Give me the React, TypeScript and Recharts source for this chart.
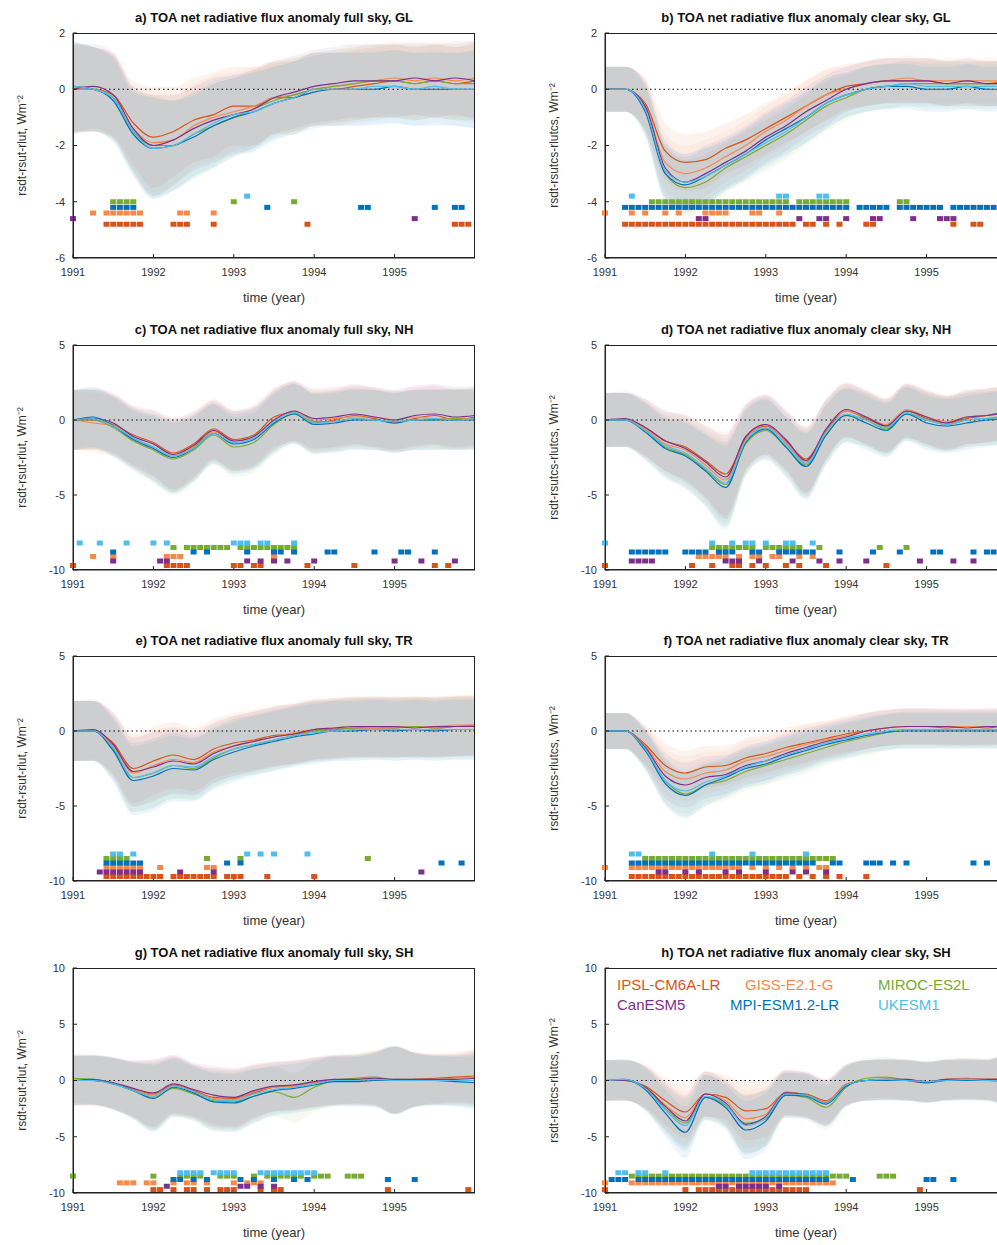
import { ComposedChart, Line, Area, Scatter, XAxis, YAxis, ReferenceLine } from "recharts";

const models = ["IPSL-CM6A-LR", "GISS-E2.1-G", "MIROC-ES2L", "CanESM5", "MPI-ESM1.2-LR", "UKESM1"];
const colors = ["#D95319", "#F5894A", "#77AC30", "#7E2F8E", "#0072BD", "#4DBEEE"];
const years = [1991, 1992, 1993, 1994, 1995];
// quarterly time points 1991.00 .. 1996.00
const times = [1991, 1991.25, 1991.5, 1991.75, 1992, 1992.25, 1992.5, 1992.75, 1993, 1993.25, 1993.5, 1993.75, 1994, 1994.25, 1994.5, 1994.75, 1995, 1995.25, 1995.5, 1995.75, 1996];

// line values per model: IPSL, GISS, MIROC, CanESM5, MPI, UKESM1
const aLines = [
  [0, 0, -0.2, -1.2, -1.7, -1.5, -1.1, -0.9, -0.6, -0.6, -0.3, -0.3, 0, 0, 0.1, 0.2, 0.3, 0.2, 0.3, 0.2, 0.3],
  [0, 0, -0.3, -1.4, -1.9, -1.8, -1.3, -1.0, -0.8, -0.6, -0.3, -0.2, 0, 0.1, 0.2, 0.3, 0.4, 0.3, 0.4, 0.3, 0.4],
  [0.1, 0, -0.3, -1.5, -2.0, -2.0, -1.6, -1.3, -1.0, -0.7, -0.4, -0.2, 0, 0.1, 0.2, 0.3, 0.3, 0.2, 0.3, 0.2, 0.2],
  [0, 0.1, -0.2, -1.4, -2.0, -1.8, -1.4, -1.1, -0.9, -0.7, -0.3, -0.1, 0.1, 0.2, 0.3, 0.3, 0.3, 0.4, 0.3, 0.4, 0.3],
  [0.1, 0, -0.4, -1.6, -2.1, -2.0, -1.7, -1.3, -1.0, -0.8, -0.5, -0.3, -0.1, 0, 0, 0, 0.1, 0, 0, 0, 0],
  [0.1, 0, -0.3, -1.5, -2.1, -2.0, -1.6, -1.2, -0.9, -0.8, -0.5, -0.3, 0, 0, 0, 0.1, 0.1, 0, 0.1, 0, 0],
];
const aSpread = [1.6, 1.5, 1.5, 1.5, 1.8, 1.6, 1.5, 1.5, 1.4, 1.4, 1.3, 1.3, 1.3, 1.3, 1.3, 1.3, 1.3, 1.3, 1.3, 1.3, 1.4];
const aMarks = [
  [5, 6, 7, 8, 9, 10, 15, 16, 17, 21, 35, 57, 58, 59],
  [3, 5, 6, 7, 8, 9, 10, 16, 17, 21],
  [6, 7, 8, 9, 24, 33],
  [0, 51],
  [6, 7, 8, 9, 29, 43, 44, 54, 57, 58],
  [26],
];

const bLines = [
  [0, 0, -0.5, -2.2, -2.6, -2.5, -2.1, -1.8, -1.4, -1.0, -0.6, -0.2, 0.1, 0.2, 0.3, 0.3, 0.3, 0.2, 0.2, 0.2, 0.3],
  [0, 0, -0.6, -2.6, -3.0, -2.8, -2.4, -2.0, -1.5, -1.1, -0.6, -0.2, 0, 0.2, 0.3, 0.4, 0.3, 0.3, 0.3, 0.3, 0.3],
  [0, 0, -0.7, -3.0, -3.5, -3.3, -2.8, -2.4, -2.0, -1.6, -1.1, -0.6, -0.3, 0, 0.1, 0.2, 0.2, 0.2, 0.2, 0.2, 0.2],
  [0, 0, -0.6, -2.8, -3.3, -3.0, -2.6, -2.2, -1.7, -1.3, -0.8, -0.4, 0, 0.2, 0.3, 0.3, 0.3, 0.2, 0.3, 0.2, 0.2],
  [0, 0, -0.8, -3.0, -3.4, -3.1, -2.7, -2.3, -1.8, -1.4, -1.0, -0.5, -0.2, 0, 0.1, 0.1, 0, 0, 0.1, 0, 0],
  [0, 0, -0.7, -2.9, -3.3, -3.1, -2.7, -2.3, -1.9, -1.5, -1.0, -0.5, -0.2, 0, 0.1, 0.2, 0.1, 0.1, 0.1, 0.1, 0.1],
];
const bSpread = [0.8, 0.8, 0.9, 1.0, 1.0, 1.0, 0.9, 0.9, 0.9, 0.9, 0.9, 0.9, 0.8, 0.8, 0.8, 0.8, 0.8, 0.8, 0.8, 0.8, 0.8];
const bMarks = [
  [3, 4, 5, 6, 7, 8, 9, 10, 11, 12, 13, 14, 15, 16, 17, 18, 19, 20, 21, 22, 23, 24, 25, 26, 27, 28, 30, 31, 33, 35, 39, 40, 52, 55, 56],
  [0, 4, 6, 9, 11, 15, 16, 17, 18, 22, 23, 26],
  [7, 8, 9, 10, 11, 12, 13, 14, 15, 16, 17, 18, 19, 20, 21, 22, 23, 24, 25, 26, 27, 29, 30, 31, 32, 33, 34, 35, 36, 44, 45],
  [14, 15, 29, 32, 33, 36, 40, 41, 46, 50, 51, 52],
  [3, 4, 5, 6, 7, 8, 9, 10, 11, 12, 13, 14, 15, 16, 17, 18, 19, 20, 21, 22, 23, 24, 25, 26, 27, 28, 29, 30, 31, 32, 33, 34, 35, 36, 38, 39, 40, 41, 42, 44, 45, 46, 47, 48, 49, 50, 52, 53, 54, 55, 56, 57, 58, 59],
  [4, 26, 27, 32, 33],
];

const cLines = [
  [0, 0, -0.3, -1.0, -1.5, -2.2, -1.6, -0.6, -1.3, -1.0, 0.2, 0.5, -0.2, 0, 0.3, 0.1, -0.2, 0.1, 0.3, 0, 0.2],
  [0, -0.2, -0.4, -1.2, -1.8, -2.4, -1.8, -0.8, -1.4, -1.2, 0, 0.6, 0, 0.1, 0.2, 0.2, 0, 0.2, 0.1, 0.1, 0.1],
  [0, 0, -0.5, -1.4, -2.0, -2.6, -2.0, -1.0, -1.8, -1.5, -0.3, 0.4, -0.1, -0.1, 0.1, 0, -0.1, 0, 0, 0.1, 0],
  [0, 0.1, -0.2, -1.1, -1.6, -2.3, -1.7, -0.7, -1.4, -1.1, 0, 0.6, 0.1, 0.2, 0.4, 0.2, 0, 0.3, 0.4, 0.2, 0.3],
  [0, 0.2, -0.4, -1.3, -1.9, -2.5, -1.9, -0.9, -1.6, -1.3, -0.2, 0.4, -0.3, -0.2, 0, 0, -0.2, 0, 0, 0, 0],
  [0, 0.1, -0.4, -1.2, -1.8, -2.4, -1.9, -0.9, -1.5, -1.2, -0.1, 0.5, -0.2, -0.1, 0.1, 0, -0.1, 0, 0.1, 0, 0.1],
];
const cSpread = [2.0, 2.0, 2.0, 2.0, 2.2, 2.4, 2.2, 2.0, 2.0, 2.0, 2.0, 2.0, 2.0, 2.0, 2.0, 2.0, 2.0, 2.0, 2.0, 2.0, 2.0];
const cMarks = [
  [0, 14, 15, 16, 17, 24, 25, 27, 28, 35, 42, 54, 56],
  [3, 6, 14, 15, 16, 30],
  [15, 17, 18, 19, 20, 21, 22, 23, 25, 26, 27, 28, 29, 30, 31, 32, 33],
  [6, 13, 14, 26, 28, 30, 32, 36, 48, 52, 57],
  [6, 18, 20, 26, 30, 31, 33, 38, 39, 45, 49, 50, 54],
  [1, 4, 8, 12, 14, 24, 25, 26, 28, 29, 33],
];

const dLines = [
  [0, 0, -0.5, -1.4, -1.8, -2.7, -3.6, -1.2, -0.4, -1.4, -2.6, -0.7, 0.6, 0.1, -0.4, 0.6, 0.1, -0.2, 0.1, 0.3, 0.6],
  [0, 0, -0.6, -1.6, -2.0, -3.0, -4.0, -1.3, -0.3, -1.5, -2.8, -0.6, 0.6, 0.2, -0.3, 0.7, 0.2, -0.1, 0.2, 0.3, 0.5],
  [0, 0, -0.7, -1.8, -2.3, -3.3, -4.3, -1.6, -0.7, -1.8, -3.0, -1.0, 0.3, 0, -0.6, 0.4, 0, -0.3, 0, 0.1, 0.3],
  [0, 0.1, -0.5, -1.4, -1.9, -2.8, -3.8, -1.1, -0.3, -1.3, -2.7, -0.6, 0.7, 0.2, -0.4, 0.6, 0.2, -0.2, 0.2, 0.3, 0.5],
  [0, 0, -0.8, -1.9, -2.4, -3.4, -4.5, -1.5, -0.6, -1.8, -3.1, -1.0, 0.3, -0.2, -0.7, 0.4, -0.2, -0.4, -0.2, 0, 0.1],
  [0, 0, -0.7, -1.7, -2.2, -3.2, -4.2, -1.4, -0.5, -1.6, -2.9, -0.8, 0.4, 0, -0.5, 0.5, 0, -0.3, 0, 0.1, 0.2],
];
const dSpread = [1.8, 1.8, 1.9, 2.0, 2.2, 2.4, 2.8, 2.2, 2.0, 2.0, 2.2, 2.0, 1.8, 1.8, 1.8, 1.8, 1.8, 1.8, 1.8, 1.8, 1.8];
const dMarks = [
  [0, 13, 16, 19, 20, 22, 24, 27, 29, 33, 42],
  [14, 15, 16, 17, 18, 20, 22, 23, 25, 26, 29, 31],
  [16, 17, 18, 19, 20, 21, 22, 24, 25, 26, 27, 28, 29, 32, 41, 45],
  [4, 5, 6, 7, 18, 19, 20, 23, 28, 32, 35, 39, 47, 52, 55],
  [4, 5, 6, 7, 8, 9, 12, 13, 14, 15, 17, 18, 19, 22, 23, 26, 27, 28, 29, 30, 31, 35, 40, 44, 49, 50, 55, 57, 58, 59],
  [0, 16, 19, 21, 22, 24, 27, 28, 31],
];

const eLines = [
  [0, 0, -0.8, -2.5, -2.0, -1.6, -1.9, -1.2, -0.8, -0.6, -0.3, -0.2, 0, 0.1, 0.2, 0.2, 0.2, 0.3, 0.2, 0.3, 0.4],
  [0, 0, -1.0, -2.8, -2.3, -1.9, -2.1, -1.4, -1.0, -0.7, -0.4, -0.1, 0.1, 0.2, 0.3, 0.2, 0.3, 0.3, 0.3, 0.4, 0.4],
  [0, 0, -1.2, -3.1, -2.8, -2.3, -2.5, -1.8, -1.2, -0.9, -0.6, -0.3, 0, 0.1, 0.2, 0.3, 0.2, 0.3, 0.2, 0.3, 0.3],
  [0, 0.1, -0.9, -2.7, -2.4, -2.0, -2.2, -1.5, -1.0, -0.7, -0.4, -0.2, 0.1, 0.2, 0.3, 0.3, 0.3, 0.2, 0.3, 0.3, 0.3],
  [0, 0, -1.3, -3.3, -3.0, -2.5, -2.6, -1.9, -1.4, -1.0, -0.7, -0.4, -0.2, 0, 0, 0.1, 0, 0.1, 0, 0.1, 0.1],
  [0, 0, -1.1, -3.1, -2.8, -2.3, -2.4, -1.7, -1.2, -0.9, -0.6, -0.3, -0.1, 0, 0.1, 0.1, 0.1, 0.1, 0.1, 0.1, 0.1],
];
const eSpread = [2.0, 2.0, 2.1, 2.3, 2.3, 2.2, 2.1, 2.0, 2.0, 2.0, 2.0, 2.0, 2.0, 2.0, 2.0, 2.0, 2.0, 2.0, 2.0, 2.0, 2.0];
const eMarks = [
  [5, 6, 7, 8, 9, 10, 11, 12, 13, 15, 16, 17, 18, 19, 20, 21, 23, 24, 25, 29, 36],
  [5, 6, 7, 8, 9, 10, 13, 20, 21],
  [5, 6, 7, 8, 20, 25, 44],
  [4, 5, 6, 7, 8, 9, 10, 16, 21, 52],
  [5, 6, 7, 8, 9, 10, 23, 25, 55, 58],
  [6, 7, 9, 26, 28, 30, 35],
];

const fLines = [
  [0, 0, -0.9, -2.3, -2.8, -2.4, -2.3, -1.8, -1.5, -1.1, -0.8, -0.5, -0.2, 0, 0.2, 0.3, 0.3, 0.2, 0.3, 0.2, 0.4],
  [0, 0, -1.0, -2.7, -3.2, -2.8, -2.6, -2.0, -1.7, -1.3, -0.9, -0.6, -0.3, 0, 0.2, 0.3, 0.3, 0.3, 0.3, 0.3, 0.3],
  [0, 0, -1.3, -3.3, -4.2, -3.6, -3.3, -2.7, -2.3, -1.9, -1.5, -1.1, -0.7, -0.4, -0.1, 0.1, 0.1, 0.1, 0.1, 0.1, 0.1],
  [0, 0, -1.1, -3.0, -3.6, -3.1, -2.9, -2.3, -2.0, -1.5, -1.1, -0.7, -0.4, 0, 0.2, 0.3, 0.3, 0.3, 0.2, 0.3, 0.3],
  [0, 0, -1.3, -3.5, -4.3, -3.6, -3.1, -2.5, -2.2, -1.7, -1.3, -0.9, -0.6, -0.3, -0.1, 0, 0, 0, 0, 0, 0],
  [0, 0, -1.2, -3.3, -4.0, -3.4, -3.0, -2.4, -2.0, -1.6, -1.2, -0.8, -0.5, -0.2, 0, 0.1, 0.1, 0.1, 0.1, 0.1, 0.1],
];
const fSpread = [1.2, 1.2, 1.3, 1.5, 1.5, 1.4, 1.3, 1.3, 1.3, 1.3, 1.3, 1.2, 1.2, 1.2, 1.2, 1.2, 1.2, 1.2, 1.2, 1.2, 1.2];
const fMarks = [
  [4, 5, 6, 7, 8, 9, 10, 11, 12, 13, 14, 15, 16, 17, 18, 19, 20, 21, 22, 23, 24, 25, 26, 27, 29, 31, 33, 35, 39],
  [0, 4, 5, 6, 7, 8, 9, 10, 11, 12, 13, 14, 15, 16, 17, 18, 19, 20, 22, 24, 26, 28, 30, 32, 33],
  [6, 7, 8, 9, 10, 11, 12, 13, 14, 15, 16, 17, 18, 19, 20, 21, 22, 23, 24, 25, 26, 27, 28, 29, 30, 31, 32, 33, 34],
  [8, 9, 12, 14, 18, 20, 24, 28, 30, 33],
  [4, 5, 6, 7, 8, 9, 10, 11, 12, 13, 14, 15, 16, 17, 18, 19, 20, 21, 22, 23, 24, 25, 26, 27, 28, 29, 30, 31, 34, 35, 39, 40, 41, 43, 45, 55, 57],
  [4, 5, 16, 22, 30],
];

const gLines = [
  [0, 0, -0.3, -0.8, -1.2, -0.4, -0.9, -1.5, -1.6, -1.1, -0.6, -0.4, -0.2, 0, 0, 0.1, 0, 0.1, 0.2, 0.3, 0.4],
  [0, 0, -0.3, -0.8, -1.3, -0.5, -1.0, -1.6, -1.7, -1.0, -0.6, -0.5, -0.2, 0, 0.1, 0.2, 0, 0.1, 0.1, 0.2, 0.3],
  [0.2, 0.1, -0.2, -0.9, -1.5, -0.7, -1.2, -1.8, -1.9, -1.4, -1.0, -1.5, -0.6, 0, 0.2, 0.3, 0.1, 0.1, 0, 0, 0],
  [0, 0, -0.2, -0.7, -1.1, -0.3, -0.8, -1.3, -1.5, -0.9, -0.5, -0.4, -0.1, 0.1, 0.1, 0.2, 0.1, 0.1, 0.1, 0.1, 0.2],
  [0, 0.1, -0.3, -0.9, -1.6, -0.6, -1.1, -1.9, -2.0, -1.4, -0.9, -0.7, -0.4, -0.1, -0.1, 0, 0, 0, 0, -0.1, -0.2],
  [0, 0, -0.3, -0.9, -1.4, -0.5, -1.0, -1.7, -1.8, -1.2, -0.8, -0.6, -0.3, 0, 0, 0.1, 0, 0, 0, 0, 0],
];
const gSpread = [2.2, 2.2, 2.3, 2.5, 3.0, 2.6, 2.4, 2.6, 2.6, 2.4, 2.2, 2.2, 2.2, 2.2, 2.2, 2.4, 3.0, 2.4, 2.2, 2.2, 2.4];
const gMarks = [
  [12, 13, 15, 17, 18, 20, 22, 23, 24, 28, 30, 31, 47, 59],
  [7, 8, 9, 11, 12, 15, 17, 18, 20, 24, 26, 27, 28],
  [0, 12, 16, 17, 18, 19, 22, 23, 24, 27, 29, 30, 31, 32, 33, 34, 36, 37, 38, 41, 42, 43],
  [14, 25, 26, 28, 30],
  [15, 16, 18, 20, 25, 27, 30, 33, 35, 47, 51],
  [16, 17, 18, 19, 21, 22, 23, 24, 28, 29, 30, 31, 32, 33, 34, 35, 36],
];

const hLines = [
  [0, 0, -0.5, -1.8, -2.8, -1.2, -1.5, -2.7, -2.5, -1.1, -1.2, -1.8, -0.4, 0, 0.1, 0, -0.2, 0.1, 0.2, 0.1, 0.2],
  [0, 0, -0.6, -2.2, -3.3, -1.2, -1.8, -3.4, -3.0, -1.0, -1.3, -1.9, -0.3, 0, 0.1, 0.1, -0.1, 0.1, 0.2, 0.1, 0.2],
  [0, 0, -0.7, -2.5, -3.8, -1.5, -2.2, -3.8, -3.4, -1.3, -1.5, -2.4, -0.6, 0.2, 0.3, 0, -0.1, 0, 0.1, 0, 0],
  [0, 0, -0.6, -2.3, -3.6, -1.2, -2.0, -3.9, -3.2, -1.1, -1.3, -2.0, -0.4, 0, 0.1, 0.1, -0.1, 0.1, 0.1, 0.1, 0.1],
  [0, 0.1, -0.8, -2.9, -4.6, -1.5, -2.4, -4.4, -3.6, -1.3, -1.4, -2.1, -0.5, 0, 0, 0, -0.2, 0, 0, 0, -0.1],
  [0, 0.1, -0.7, -2.6, -4.0, -1.4, -2.1, -4.0, -3.3, -1.2, -1.3, -2.0, -0.4, 0, 0.1, 0, -0.1, 0, 0.1, 0, 0],
];
const hSpread = [1.8, 1.8, 1.9, 2.1, 2.3, 2.0, 2.0, 2.6, 2.5, 2.0, 2.0, 2.0, 1.8, 1.8, 1.8, 1.8, 1.8, 1.8, 1.8, 1.8, 2.4];
const hMarks = [
  [0, 12, 14, 15, 16, 17, 18, 19, 20, 21, 22, 23, 24, 25, 26, 27, 28, 29, 30, 47, 59],
  [0, 4, 5, 6, 7, 8, 9, 10, 11, 12, 13, 14, 15, 16, 17, 18, 19, 20, 21, 22, 23, 24, 25, 26, 27, 28, 29, 30, 31, 32, 33, 34],
  [4, 5, 6, 7, 8, 9, 10, 11, 12, 13, 14, 15, 16, 17, 18, 19, 20, 21, 22, 23, 24, 25, 26, 27, 28, 29, 30, 31, 32, 33, 34, 35, 36, 41, 42, 43],
  [17, 18, 20, 21, 22, 23, 24, 26],
  [1, 2, 3, 5, 6, 7, 8, 9, 10, 11, 12, 13, 14, 15, 16, 17, 18, 19, 20, 21, 22, 23, 24, 25, 26, 27, 28, 29, 30, 31, 32, 33, 37, 48, 49, 52],
  [2, 3, 5, 6, 9, 22, 23, 24, 25, 26, 27, 28, 29, 30, 31, 32, 33],
];

const levelsGL = [-4.8, -4.4, -4.0, -4.6, -4.2, -3.8];
const levels10 = [-9.7, -9.1, -8.5, -9.4, -8.8, -8.2];
const ticksGL = [-6, -4, -2, 0, 2];
const ticks5 = [-10, -5, 0, 5];
const ticks10 = [-10, -5, 0, 5, 10];

const panels = [
  { title: "a) TOA net radiative flux anomaly full sky, GL", ylab: "rsdt-rsut-rlut, Wm⁻²", lines: aLines, spread: aSpread, marks: aMarks, levels: levelsGL, ticks: ticksGL },
  { title: "b) TOA net radiative flux anomaly clear sky, GL", ylab: "rsdt-rsutcs-rlutcs, Wm⁻²", lines: bLines, spread: bSpread, marks: bMarks, levels: levelsGL, ticks: ticksGL },
  { title: "c) TOA net radiative flux anomaly full sky, NH", ylab: "rsdt-rsut-rlut, Wm⁻²", lines: cLines, spread: cSpread, marks: cMarks, levels: levels10, ticks: ticks5 },
  { title: "d) TOA net radiative flux anomaly clear sky, NH", ylab: "rsdt-rsutcs-rlutcs, Wm⁻²", lines: dLines, spread: dSpread, marks: dMarks, levels: levels10, ticks: ticks5 },
  { title: "e) TOA net radiative flux anomaly full sky, TR", ylab: "rsdt-rsut-rlut, Wm⁻²", lines: eLines, spread: eSpread, marks: eMarks, levels: levels10, ticks: ticks5 },
  { title: "f) TOA net radiative flux anomaly clear sky, TR", ylab: "rsdt-rsutcs-rlutcs, Wm⁻²", lines: fLines, spread: fSpread, marks: fMarks, levels: levels10, ticks: ticks5 },
  { title: "g) TOA net radiative flux anomaly full sky, SH", ylab: "rsdt-rsut-rlut, Wm⁻²", lines: gLines, spread: gSpread, marks: gMarks, levels: levels10, ticks: ticks10 },
  { title: "h) TOA net radiative flux anomaly clear sky, SH", ylab: "rsdt-rsutcs-rlutcs, Wm⁻²", lines: hLines, spread: hSpread, marks: hMarks, levels: levels10, ticks: ticks10 },
];

const font = "'Liberation Sans', Arial, sans-serif";
const W = 490;
const H = 310;
const rowTops = [0, 312, 623, 935];
const colLefts = [0, 532];

const Box = (props: any) => {
  const { cx, cy, fill } = props;
  if (cx == null || cy == null) return null;
  return <rect x={cx - 3} y={cy - 2.5} width={6} height={5} fill={fill} />;
};

const Panel = ({ p, legend }: { p: any; legend: boolean }) => {
  const data = times.map((t, i) => {
    const row: any = { t };
    models.forEach((_, m) => {
      row["v" + m] = p.lines[m][i];
      row["r" + m] = [p.lines[m][i] - p.spread[i], p.lines[m][i] + p.spread[i]];
    });
    return row;
  });
  const tickStyle = { fontSize: 11, fill: "#333", fontFamily: font };
  return (
    <div style={{ position: "relative", width: W, height: H }}>
      <div style={{ position: "absolute", left: 73, width: 402, top: 10, textAlign: "center", fontSize: 13, fontWeight: "bold", fontFamily: font, color: "#111" }}>
        {p.title}
      </div>
      <ComposedChart width={W} height={H} data={data} margin={{ top: 33, right: 15, bottom: 0, left: 28 }}>
        <XAxis dataKey="t" type="number" domain={[1991, 1996]} ticks={years} tick={tickStyle} tickSize={-4} tickMargin={14} stroke="#222" height={52}
          label={{ value: "time (year)", position: "insideBottom", offset: 8, style: { fontSize: 13, fill: "#333", fontFamily: font } }} />
        <YAxis domain={[p.ticks[0], p.ticks[p.ticks.length - 1]]} ticks={p.ticks} tick={tickStyle} tickSize={-4} tickMargin={12} stroke="#222" width={45} interval={0}
          label={{ value: p.ylab, angle: -90, position: "insideLeft", offset: -6, style: { fontSize: 12, fill: "#333", fontFamily: font, textAnchor: "middle" } }} />
        {models.map((_, m) => (
          <Area key={"a" + m} dataKey={"r" + m} stroke="none" fill={colors[m]} fillOpacity={0.07} isAnimationActive={false} type="monotone" />
        ))}
        <ReferenceLine y={0} stroke="#000" strokeDasharray="1.5 3" />
        {models.map((_, m) => (
          <Line key={"l" + m} dataKey={"v" + m} stroke={colors[m]} strokeWidth={1.2} dot={false} isAnimationActive={false} type="monotone" />
        ))}
        {models.map((_, m) => (
          <Scatter key={"s" + m} data={p.marks[m].map((k: number) => ({ t: 1991 + k / 12, y: p.levels[m] }))} dataKey="y" fill={colors[m]} shape={<Box />} isAnimationActive={false} />
        ))}
      </ComposedChart>
      <div style={{ position: "absolute", left: 73, top: 33, width: 402, height: 225, boxSizing: "border-box", border: "1px solid #222", pointerEvents: "none" }} />
      {legend && (
        <div style={{ position: "absolute", left: 85, top: 40, fontFamily: font, fontSize: 15, lineHeight: "20px" }}>
          {models.map((name, m) => (
            <span key={name} style={{ position: "absolute", left: [0, 128, 261, 0, 113, 261][m], top: m < 3 ? 0 : 20, color: colors[m], whiteSpace: "nowrap" }}>{name}</span>
          ))}
        </div>
      )}
    </div>
  );
};

export default function App() {
  return (
    <div style={{ position: "absolute", left: 0, top: 0, width: 997, height: 1245, overflow: "hidden", background: "#fff" }}>
      {panels.map((p, i) => (
        <div key={i} style={{ position: "absolute", left: colLefts[i % 2], top: rowTops[Math.floor(i / 2)] }}>
          <Panel p={p} legend={i === 7} />
        </div>
      ))}
    </div>
  );
}
